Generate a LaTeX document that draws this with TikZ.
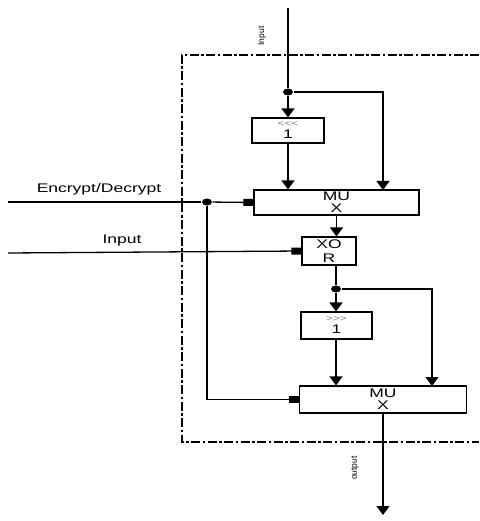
\documentclass[tikz,border=0pt]{standalone}
\usepackage{fontspec}
\setmainfont{Liberation Sans}
\usepackage{graphicx}
\usetikzlibrary{arrows.meta, calc, shapes.geometric}

\newcommand{\wide}[1]{\scalebox{1.4}[1]{#1}}

\begin{document}
\begin{tikzpicture}[
    x=1pt, y=-1pt,
    line width=1.3pt,
    flow/.style={-{Triangle[width=13pt,length=9pt]}},
    side/.style={-{Rectangle[width=7pt,length=10pt]}},
    blk/.style={draw, line width=1.1pt, inner sep=0pt, align=center,
        font=\fontsize{12.5}{11}\selectfont},
    dot/.style={fill, ellipse, inner sep=0pt, minimum width=10pt, minimum height=7pt},
    lbl/.style={font=\fontsize{12.5}{13}\selectfont, inner sep=0pt},
    tag/.style={font=\fontsize{8.5}{9}\selectfont, inner sep=0pt, rotate=90},
    frame/.style={line width=1.1pt, dash pattern=on 9pt off 2.5pt on 2.5pt off 2.5pt}
]
\useasboundingbox (0,0) rectangle (479,521);

% --- dashed boundary (open to the right) ---
\draw[frame] (479,55) -- (182,55) -- (182,442) -- (479,442);

% --- blocks ---
\node[blk, minimum width=72pt, minimum height=25pt] (shl) at (288,130.5)
    {{\fontsize{8.5}{8}\selectfont\color{gray}\wide{{<}{<}{<}}}\\[1pt]\wide{1}};
\node[blk, minimum width=165pt, minimum height=25pt] (mux1) at (336.5,202.5)
    {\wide{MU}\\[1pt]\wide{X}};
\node[blk, minimum width=54pt, minimum height=28pt] (xor) at (329,251)
    {\wide{XO}\\[3pt]\wide{R}};
\node[blk, minimum width=71pt, minimum height=27pt] (shr) at (336.5,325.5)
    {{\fontsize{8.5}{8}\selectfont\color{gray}\wide{{>}{>}{>}}}\\[1pt]\wide{1}};
\node[blk, minimum width=167pt, minimum height=27pt] (mux2) at (383,399.5)
    {\wide{MU}\\[1pt]\wide{X}};

% --- junctions and free ends ---
\coordinate (in) at (288,8);
\coordinate (ed) at (8,202);
\coordinate (in2) at (8,253);
\coordinate (out) at (383,515);
\node[dot] (j1) at (288,92) {};
\node[dot] (j2) at (207,202) {};
\node[dot] (j3) at (336,289) {};

% --- labels ---
\node[lbl] (edlab) at (99,189) {\wide{Encrypt/Decrypt}};
\node[lbl] (inlab) at (122,240) {\wide{Input}};
\node[tag] (intag) at (262,36) {Input};
\node[tag] (outtag) at (355,468) {output};

% --- connections ---
\draw (in) -- (j1);
\draw[flow] (j1) -- (shl.north);
\draw[flow] (j1) -| (383,190);
\draw[flow] (shl.south) -- (shl.south |- mux1.north);
\draw (ed) -- (j2);
\draw[side] (j2) -- (mux1.west);
\draw[side] (j2) |- (mux2.west);
\draw[side] (in2) -- (xor.west);
\draw[flow] (mux1.south) -- (mux1.south |- xor.north);
\draw (xor.south -| j3) -- (j3);
\draw[flow] (j3) -- (shr.north -| j3);
\draw[flow] (j3) -| (432,386);
\draw[flow] (shr.south -| j3) -- (j3 |- mux2.north);
\draw[flow] (mux2.south) -- (out);

\end{tikzpicture}
\end{document}
